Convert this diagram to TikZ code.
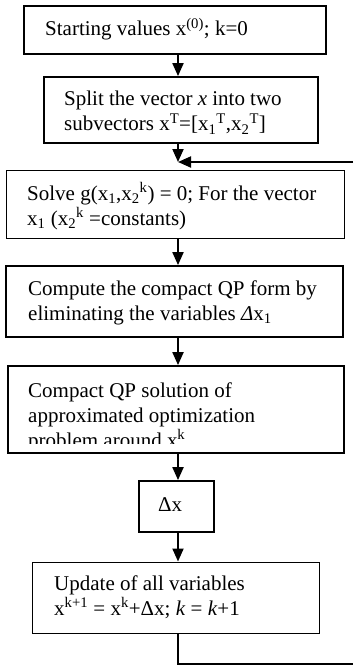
\documentclass[tikz,border=0pt]{standalone}
\usepackage{fontspec}
\setmainfont{Liberation Serif}
\usetikzlibrary{arrows.meta}
\begin{document}
\begin{tikzpicture}[x=1bp,y=-1bp,
  thickbox/.style={draw,line width=1.8bp,inner sep=0pt},
  thinbox/.style={draw,line width=1bp,inner sep=0pt},
  txt/.style={anchor=base west,inner sep=0pt,align=left,font=\fontsize{21bp}{25bp}\selectfont},
  flow/.style={line width=2bp,-{Triangle[length=13bp,width=11bp]}},
  loopline/.style={line width=1.5bp}]
\useasboundingbox (0,0) rectangle (353,666);
\coordinate (col) at (178,0);
% boxes
\node[thickbox,minimum width=302bp,minimum height=48bp] (b1) at (175,30) {};
\node[thickbox,minimum width=274bp,minimum height=66bp] (b2) at (181,110) {};
\node[thinbox,minimum width=337bp,minimum height=68bp] (b3) at (175.5,204) {};
\node[thickbox,minimum width=337bp,minimum height=71bp] (b4) at (174.5,301.5) {};
\node[thickbox,minimum width=336bp,minimum height=87bp] (b5) at (176,409.5) {};
\node[thickbox,minimum width=75bp,minimum height=51bp] (b6) at (176.5,506.5) {};
\node[thinbox,minimum width=286bp,minimum height=71bp] (b7) at (176,597.5) {};
% texts (anchored at the baseline of the last line)
\node[txt] (t1) at (45,36) {Starting values x\textsuperscript{(0)}; k=0};
\node[txt] (t2) at (64,131) {Split the vector \textit{x} into two\\subvectors x\textsuperscript{T}=[x\textsubscript{1}\textsuperscript{T},x\textsubscript{2}\textsuperscript{T}]};
\node[txt] (t3) at (27,225) {Solve g(x\textsubscript{1},x\textsubscript{2}\textsuperscript{k}) = 0; For the vector\\x\textsubscript{1} (x\textsubscript{2}\textsuperscript{k} =constants)};
\node[txt] (t4) at (28,320) {Compute the compact QP form by\\eliminating the variables \textit{Δ}x\textsubscript{1}};
\begin{scope}
\clip (b5.north west) rectangle (344,443);
\node[txt] (t5) at (28,447) {Compact QP solution of\\approximated optimization\\problem around x\textsuperscript{k}};
\end{scope}
\node[txt] (t6) at (158,511) {Δx};
\node[txt] (t7) at (54,615) {Update of all variables\\x\textsuperscript{k+1} = x\textsuperscript{k}+Δx; \textit{k} = \textit{k}+1};
% connectors
\coordinate (join) at (178,162);
\coordinate (loopin) at (353,162);
\coordinate (loopbottom) at (178,664);
\coordinate (loopout) at (353,664);
\draw[flow] (b1.south -| col) -- (b2.north -| col);
\draw[flow] (b2.south -| col) -- (join);
\draw[flow] (loopin) -- (join);
\draw[flow] (b3.south -| col) -- (b4.north -| col);
\draw[flow] (b4.south -| col) -- (b5.north -| col);
\draw[flow] (b5.south -| col) -- (b6.north -| col);
\draw[flow] (b6.south -| col) -- (b7.north -| col);
\draw[loopline] (b7.south -| col) -- (loopbottom) -- (loopout);
\end{tikzpicture}
\end{document}
